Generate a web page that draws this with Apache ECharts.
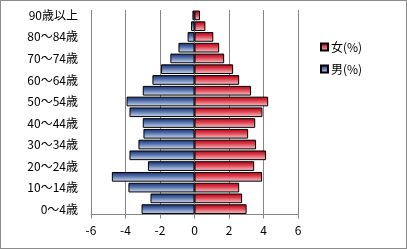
<!DOCTYPE html>
<html>
<head>
<meta charset="utf-8">
<script src="https://cdn.jsdelivr.net/npm/echarts@6/dist/echarts.min.js"></script>
<style>
html,body{margin:0;padding:0;background:#fff;}
#frame{position:absolute;left:0;top:0;width:405px;height:247px;border:1px solid #8c8c8c;}
#chart{position:absolute;left:0;top:0;width:407px;height:249px;}
</style>
</head>
<body>
<div id="frame"></div>
<div id="chart"></div>
<script>
const categories = ['0～4歳','5～9歳','10～14歳','15～19歳','20～24歳','25～29歳','30～34歳','35～39歳','40～44歳','45～49歳','50～54歳','55～59歳','60～64歳','65～69歳','70～74歳','75～79歳','80～84歳','85～89歳','90歳以上'];
const male = [-3.07,-2.55,-3.83,-4.79,-2.7,-3.77,-3.25,-2.96,-3.0,-3.77,-3.94,-3.0,-2.44,-1.94,-1.4,-0.93,-0.4,-0.2,-0.12];
const female = [3.02,2.76,2.59,3.92,3.46,4.15,3.57,3.11,3.52,3.94,4.27,3.28,2.59,2.24,1.72,1.43,1.09,0.63,0.32];
const xTicks = [-6,-4,-2,0,2,4,6];

const font = '"Noto Sans CJK JP", "Noto Sans", sans-serif';
const blueGrad = new echarts.graphic.LinearGradient(0,0,0,1,[
  {offset:0,color:'#112c66'},{offset:0.4,color:'#4f6ca9'},{offset:1,color:'#d6e0f1'}]);
const redGrad = new echarts.graphic.LinearGradient(0,0,0,1,[
  {offset:0,color:'#b0000f'},{offset:0.4,color:'#dc3a4a'},{offset:1,color:'#f7cdd2'}]);

const chart = echarts.init(document.getElementById('chart'), null, {renderer:'canvas'});
chart.setOption({
  animation:false,
  backgroundColor:'transparent',
  grid:{left:91,right:109,top:10,bottom:34.5,containLabel:false},
  legend:{
    orient:'vertical',left:315,top:36,itemWidth:7,itemHeight:7,itemGap:10,
    textStyle:{fontFamily:font,fontSize:12,color:'#000',padding:[0,0,0,-2]},
    data:[{name:'女(%)',icon:'rect'},{name:'男(%)',icon:'rect'}]
  },
  xAxis:{
    type:'value',min:xTicks[0],max:xTicks[xTicks.length-1],interval:2,
    axisLine:{show:true,lineStyle:{color:'#868686',width:1}},
    axisTick:{show:true,length:4,lineStyle:{color:'#868686'}},
    axisLabel:{fontFamily:font,fontSize:12,color:'#000',margin:10},
    splitLine:{show:true,lineStyle:{color:'#868686',width:1}}
  },
  yAxis:{
    type:'category',data:categories,
    axisLine:{show:false},axisTick:{show:false},
    axisLabel:{interval:1,fontFamily:font,fontSize:12,color:'#000',margin:13}
  },
  series:[
    {name:'女(%)',type:'bar',stack:'p',data:female,barCategoryGap:'10%',
     itemStyle:{color:redGrad,borderColor:'#000',borderWidth:1}},
    {name:'男(%)',type:'bar',stack:'p',data:male,barCategoryGap:'10%',
     itemStyle:{color:blueGrad,borderColor:'#000',borderWidth:1}}
  ]
});
</script>
</body>
</html>
